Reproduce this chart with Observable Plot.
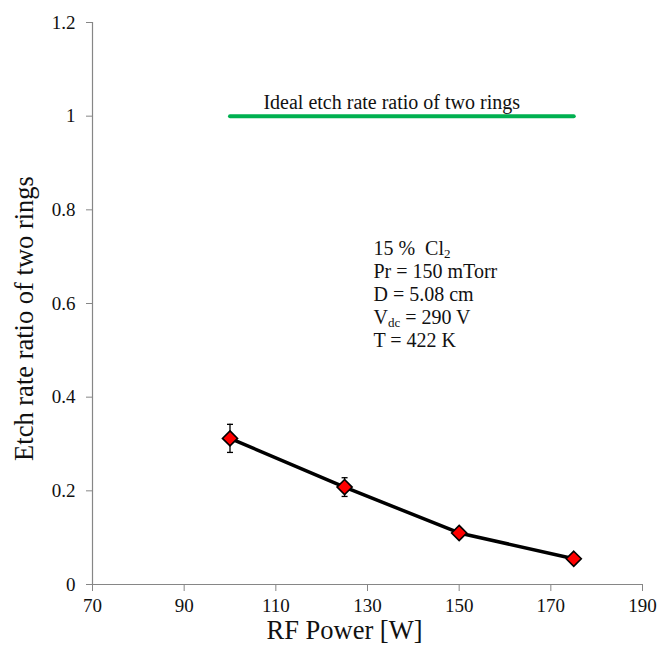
<!DOCTYPE html>
<html>
<head>
<meta charset="utf-8">
<script src="https://cdn.jsdelivr.net/npm/d3@7"></script>
<script src="https://cdn.jsdelivr.net/npm/@observablehq/plot@0.6"></script>
<style>
  html, body { margin: 0; padding: 0; background: #fff; }
  #chart svg, #chart svg text, #chart svg g { font-family: "Liberation Serif", "Times New Roman", serif !important; }
</style>
</head>
<body>
<div id="chart"></div>
<script>
// ---- data ----
const power = [100, 125, 150, 175];
const ratio = [0.312, 0.208, 0.110, 0.055];
const errorBar = [0.030, 0.020, 0.008, 0.006];
const idealX = [100, 175];
const idealY = 1;
const xTicks = [70, 90, 110, 130, 150, 170, 190];
const yTicks = [0, 0.2, 0.4, 0.6, 0.8, 1, 1.2];
const idealLabel = "Ideal etch rate ratio of two rings";
const conditionLines = ["15 %\u2002Cl2", "Pr = 150 mTorr", "D = 5.08 cm", "Vdc = 290 V", "T = 422 K"];
const conditionAnchor = {x: 131.3, y: 0.72};
const idealLabelX = 107.3;
const xLabel = "RF Power [W]";
const yLabel = "Etch rate ratio of two rings";

const pts = power.map((p, i) => ({x: p, y: ratio[i], lo: ratio[i] - errorBar[i], hi: ratio[i] + errorBar[i]}));
const ideal = idealX.map(x => ({x, y: idealY}));

const cap = {draw(ctx) { ctx.moveTo(-3, 0); ctx.lineTo(3, 0); }};
const axisGray = "#868686";
const font = "Liberation Serif";

const marks = [
  Plot.ruleY([0], {stroke: axisGray, strokeWidth: 1.2}),
  Plot.ruleX([70], {stroke: axisGray, strokeWidth: 1.2}),
  Plot.axisX({ticks: xTicks, tickSize: 7, tickPadding: 7, fontSize: 19, fontFamily: font, stroke: axisGray, label: null, tickFormat: d => String(d)}),
  Plot.axisY({ticks: yTicks, tickSize: 6, tickPadding: 11, fontSize: 19, fontFamily: font, stroke: axisGray, label: null, tickFormat: d => String(+d.toFixed(1))}),
  Plot.line(ideal, {x: "x", y: "y", stroke: "#00b050", strokeWidth: 4}),
  Plot.text([idealLabel], {x: idealLabelX, y: idealY, text: d => d, textAnchor: "start", dy: -13.5, fontSize: 20, fontFamily: font, fill: "#111"}),
  Plot.ruleX(pts, {x: "x", y1: "lo", y2: "hi", stroke: "#000", strokeWidth: 1.3}),
  Plot.dot(pts, {x: "x", y: "lo", symbol: cap, r: 3, fill: "none", stroke: "#000", strokeWidth: 1.3}),
  Plot.dot(pts, {x: "x", y: "hi", symbol: cap, r: 3, fill: "none", stroke: "#000", strokeWidth: 1.3}),
  Plot.line(pts, {x: "x", y: "y", stroke: "#000", strokeWidth: 3.5}),
  Plot.dot(pts, {x: "x", y: "y", symbol: "diamond2", r: 6.8, fill: "#ff0000", stroke: "#000", strokeWidth: 1.6}),
  ...conditionLines.map((line, i) => Plot.text([line], {x: conditionAnchor.x, y: conditionAnchor.y, text: d => d, textAnchor: "start", dy: 1 + i * 23, fontSize: 20, fontFamily: font, fill: "#111"})),
  Plot.text([xLabel], {frameAnchor: "bottom", text: d => d, textAnchor: "middle", dy: 54, dx: -23, fontSize: 26.5, fontFamily: font, fill: "#111"}),
  Plot.text([yLabel], {frameAnchor: "left", text: d => d, textAnchor: "middle", rotate: -90, dx: -68, dy: 15, fontSize: 26.5, fontFamily: font, fill: "#111"})
];

const chart = Plot.plot({
  width: 657,
  height: 649,
  marginLeft: 92,
  marginRight: 15,
  marginTop: 22,
  marginBottom: 65,
  style: {fontFamily: font, background: "#fff", color: "#111", overflow: "visible"},
  x: {domain: [70, 190]},
  y: {domain: [0, 1.2]},
  marks
});

// subscripts
d3.select(chart).selectAll("text").each(function() {
  const t = this.textContent;
  const sel = d3.select(this);
  if (t === conditionLines[0]) {
    sel.text(null);
    sel.append("tspan").text("15 %\u2002Cl");
    sel.append("tspan").attr("baseline-shift", "-3").attr("font-size", 13).text("2");
  } else if (t === conditionLines[3]) {
    sel.text(null);
    sel.append("tspan").text("V");
    sel.append("tspan").attr("baseline-shift", "-3").attr("font-size", 13).text("dc");
    sel.append("tspan").text(" = 290 V");
  }
});

document.getElementById("chart").appendChild(chart);
</script>
</body>
</html>
